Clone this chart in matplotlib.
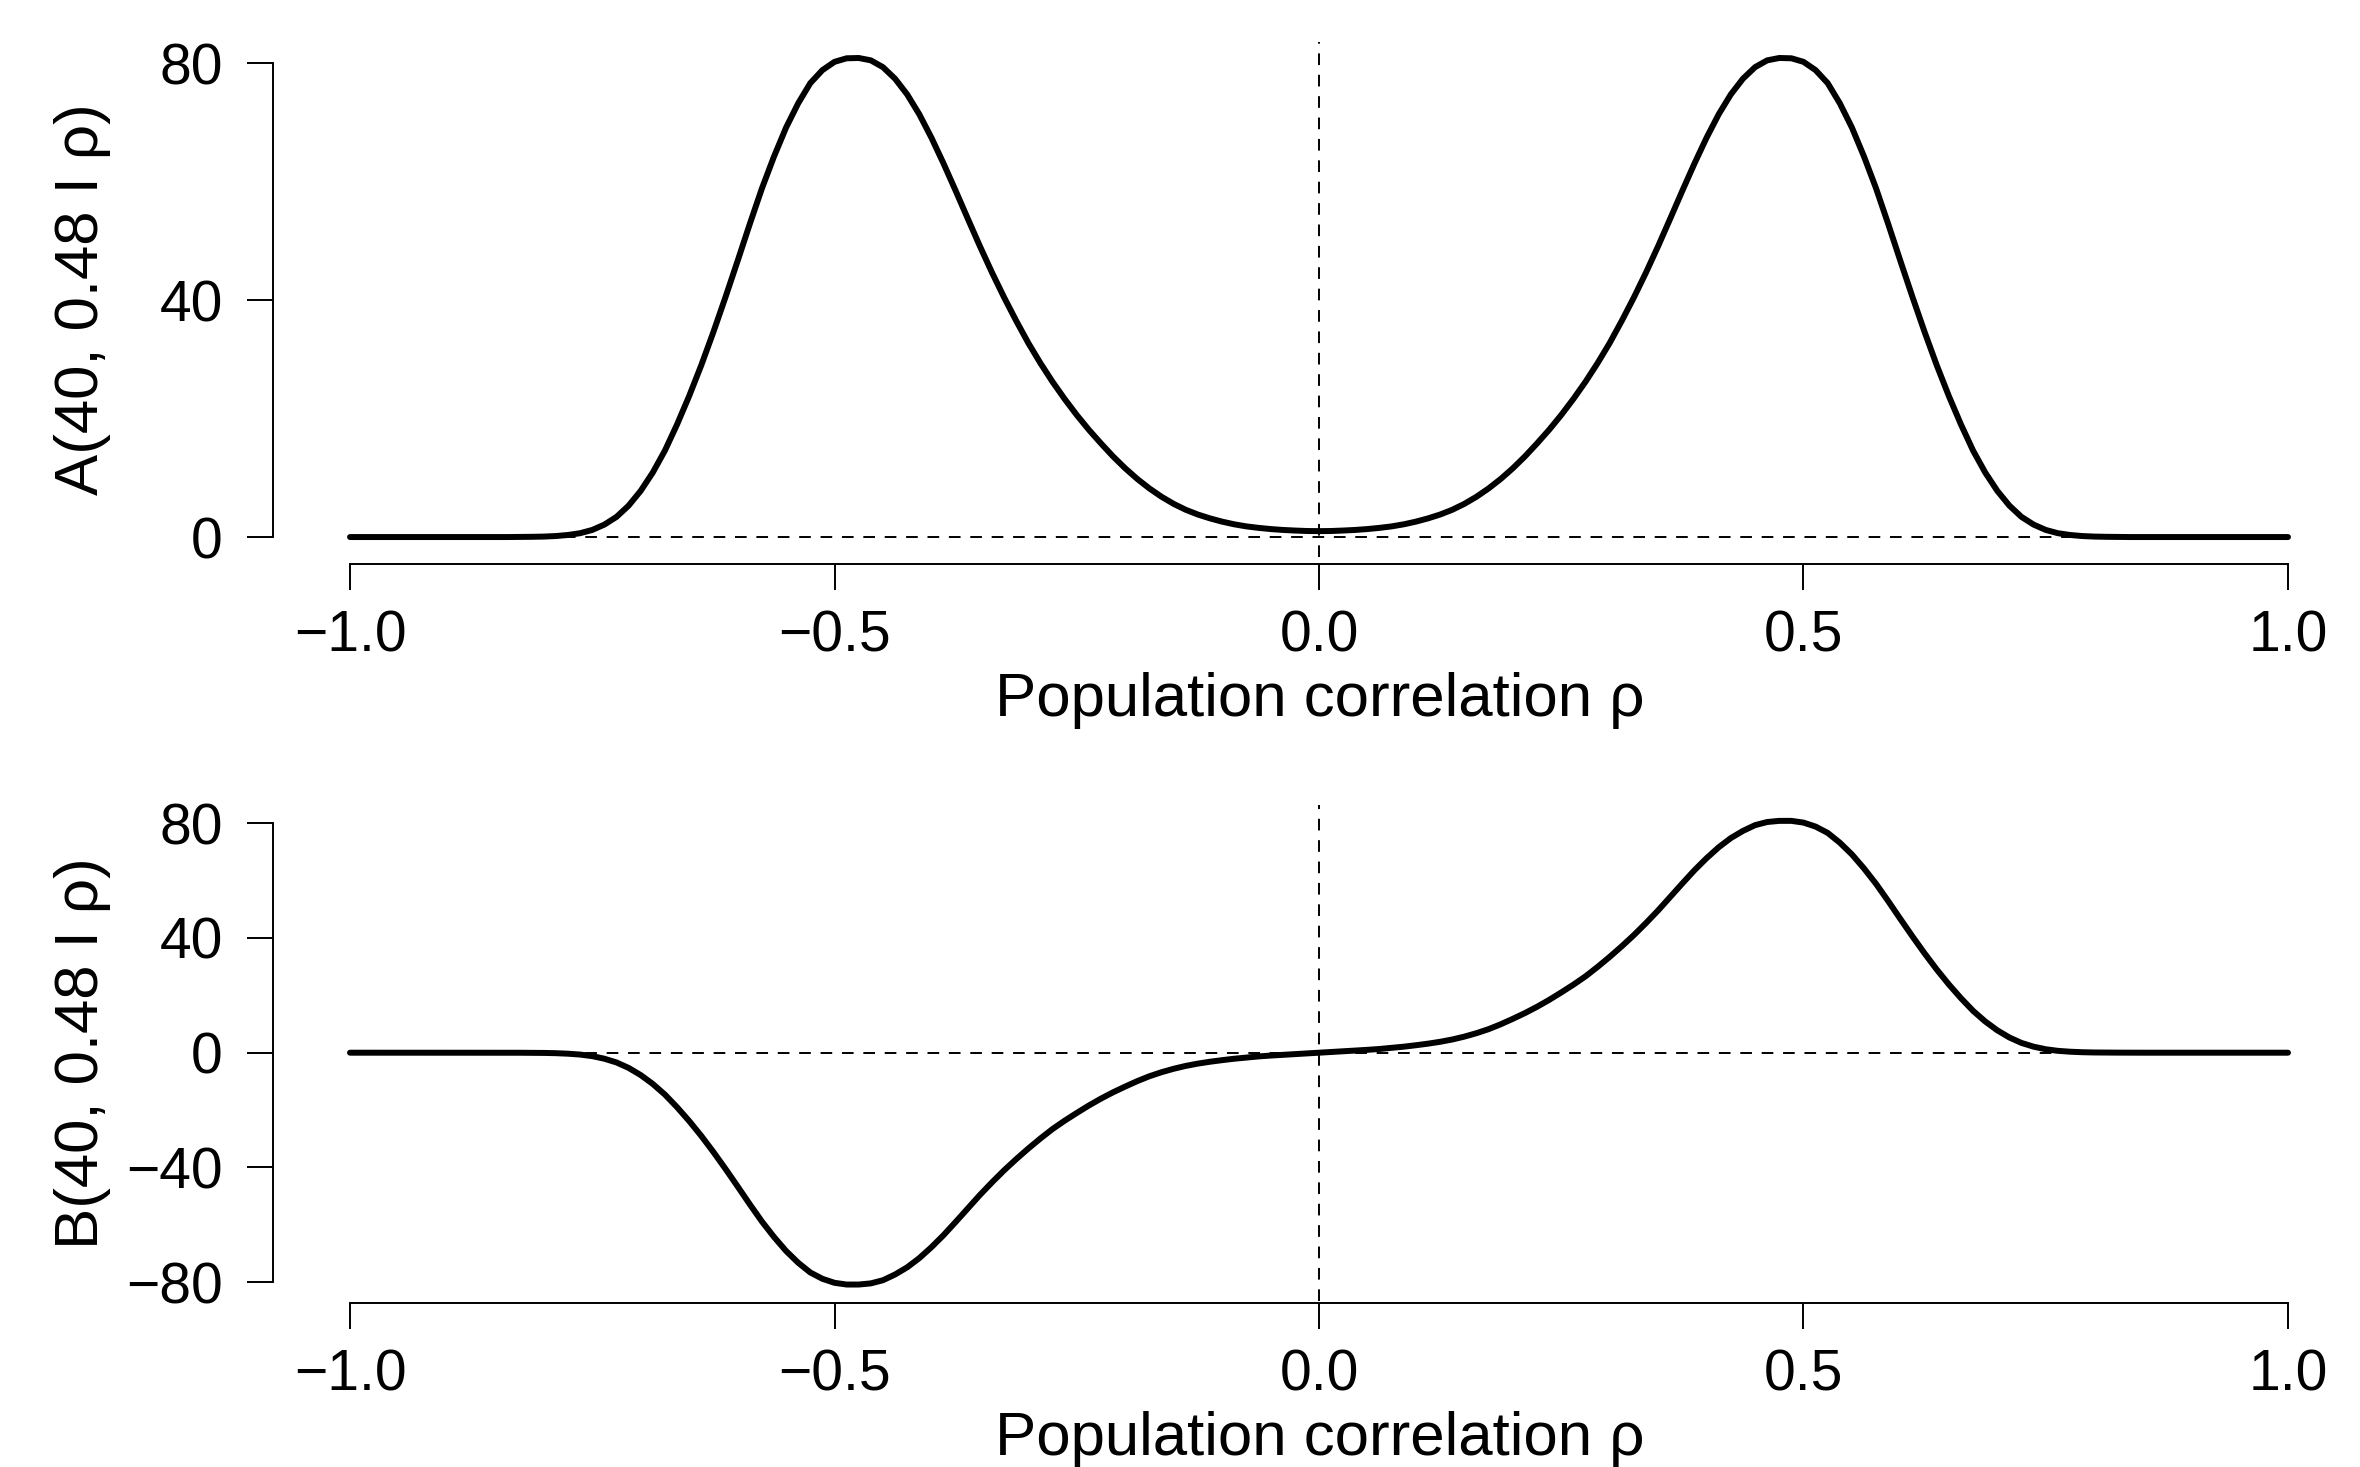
import numpy as np
import matplotlib
matplotlib.use("Agg")
import matplotlib.pyplot as plt

plt.rcParams['font.family'] = ['Liberation Sans', 'DejaVu Sans']

# population correlation grid (step 0.0125)
rho = np.linspace(-1, 1, 161)

# A(40, 0.48 | rho): rho from -1 to -0.0125, then 0 to 1
a_neg = [0, 0, 0, 0, 0, 0, 0, 0, 0, 0, 0, 0, 0, 0,
         0.02, 0.04, 0.08, 0.17, 0.35, 0.65, 1.2, 2.1, 3.4, 5.3,
         7.8, 10.9, 14.6, 19.0, 23.8, 29.0, 34.6, 40.5, 46.6, 52.8,
         58.8, 64.2, 69.1, 73.2, 76.6, 78.8, 80.2, 80.8, 80.85, 80.45,
         79.3, 77.35, 74.7, 71.35, 67.4, 63.05, 58.45, 53.75, 49.1, 44.65,
         40.45, 36.5, 32.75, 29.35, 26.2, 23.3, 20.6, 18.1, 15.8, 13.6,
         11.6, 9.8, 8.2, 6.8, 5.6, 4.6, 3.8, 3.15, 2.6, 2.15,
         1.8, 1.55, 1.35, 1.2, 1.1, 1.02]
a_pos = [1.0, 1.02, 1.1, 1.2, 1.35, 1.55, 1.8, 2.15, 2.6, 3.15,
         3.8, 4.6, 5.6, 6.8, 8.2, 9.8, 11.6, 13.6, 15.8, 18.1,
         20.6, 23.3, 26.2, 29.35, 32.75, 36.5, 40.45, 44.65, 49.1, 53.75,
         58.45, 63.05, 67.4, 71.35, 74.7, 77.35, 79.3, 80.45, 80.85, 80.8,
         80.2, 78.8, 76.6, 73.2, 69.1, 64.2, 58.8, 52.8, 46.6, 40.5,
         34.6, 29.0, 23.8, 19.0, 14.6, 10.9, 7.8, 5.3, 3.4, 2.1,
         1.2, 0.65, 0.35, 0.17, 0.08, 0.04, 0.02, 0, 0, 0,
         0, 0, 0, 0, 0, 0, 0, 0, 0, 0, 0]

# B(40, 0.48 | rho)
b_neg = [0, 0, 0, 0, 0, 0, 0, 0, 0, 0, 0, 0, 0, 0,
         -0.02, -0.04, -0.08, -0.17, -0.35, -0.65, -1.2, -2.1, -3.4, -5.3,
         -7.8, -10.9, -14.6, -19.0, -23.8, -29.0, -34.6, -40.5, -46.6, -52.8,
         -58.8, -64.2, -69.1, -73.2, -76.6, -78.8, -80.2, -80.8, -80.8, -80.4,
         -79.3, -77.3, -74.8, -71.6, -67.8, -63.6, -59.0, -54.3, -49.6, -45.2,
         -41.0, -37.1, -33.4, -29.9, -26.6, -23.7, -21.0, -18.4, -16.0, -13.8,
         -11.8, -9.9, -8.2, -6.8, -5.6, -4.6, -3.8, -3.15, -2.6, -2.1,
         -1.7, -1.3, -1.0, -0.75, -0.5, -0.25]
b_pos = [0.0, 0.25, 0.5, 0.75, 1.0, 1.3, 1.7, 2.1, 2.6, 3.15,
         3.8, 4.6, 5.6, 6.8, 8.2, 9.9, 11.8, 13.8, 16.0, 18.4,
         21.0, 23.7, 26.6, 29.9, 33.4, 37.1, 41.0, 45.2, 49.6, 54.3,
         59.0, 63.6, 67.8, 71.6, 74.8, 77.3, 79.3, 80.4, 80.8, 80.8,
         80.2, 78.8, 76.6, 73.2, 69.1, 64.2, 58.8, 52.8, 46.6, 40.5,
         34.6, 29.0, 23.8, 19.0, 14.6, 10.9, 7.8, 5.3, 3.4, 2.1,
         1.2, 0.65, 0.35, 0.17, 0.08, 0.04, 0.02, 0, 0, 0,
         0, 0, 0, 0, 0, 0, 0, 0, 0, 0, 0]

a_vals = a_neg + a_pos
b_vals = b_neg + b_pos

x_ticks = [-1.0, -0.5, 0.0, 0.5, 1.0]
x_labels = ['\u22121.0', '\u22120.5', '0.0', '0.5', '1.0']
a_ticks = [0, 40, 80]
a_labels = ['0', '40', '80']
b_ticks = [-80, -40, 0, 40, 80]
b_labels = ['\u221280', '\u221240', '0', '40', '80']

W, H = 2360, 1467
fig = plt.figure(figsize=(W / 100, H / 100), dpi=100)

# axes placed in pixel terms (left, bottom, width, height)
ax1 = fig.add_axes([272.5 / W, 1 - 556.6 / H, 2093 / W, 514.9 / H])
ax2 = fig.add_axes([272.5 / W, 1 - 1300.6 / H, 2093 / W, 495.8 / H])

panels = [
    (ax1, a_vals, a_ticks, a_labels, (-3.3, 83.6), 5.3, 'A(40, 0.48 I \u03c1)'),
    (ax2, b_vals, b_ticks, b_labels, (-86.4, 86.4), 1.7, 'B(40, 0.48 I \u03c1)'),
]

dash = (0, (6, 5))
for ax, vals, yt, ylab, ylim, offset, ylabel in panels:
    ax.plot([-1, 1], [0, 0], color='black', lw=1.4, ls=dash, zorder=1)
    ax.axvline(0, color='black', lw=1.4, ls=dash, zorder=1)
    ax.plot(rho, vals, color='black', lw=4.3, solid_capstyle='round',
            solid_joinstyle='round', zorder=3)

    ax.set_xlim(-1.08, 1.08)
    ax.set_ylim(*ylim)

    for s in ['top', 'right']:
        ax.spines[s].set_visible(False)
    ax.spines['left'].set_bounds(yt[0], yt[-1])
    ax.spines['bottom'].set_bounds(-1, 1)
    ax.spines['bottom'].set_position(('outward', offset))
    ax.spines['left'].set_linewidth(1.4)
    ax.spines['bottom'].set_linewidth(1.4)

    ax.set_xticks(x_ticks)
    ax.set_xticklabels(x_labels)
    ax.set_yticks(yt)
    ax.set_yticklabels(ylab)
    ax.tick_params(axis='both', direction='out', length=18.7, width=1.4,
                   labelsize=41, colors='black')
    ax.tick_params(axis='x', pad=14)
    ax.tick_params(axis='y', pad=17)

    ax.set_xlabel('Population correlation \u03c1', fontsize=44.5, va='baseline')
    ax.set_ylabel(ylabel, fontsize=44.5, va='baseline', rotation_mode='anchor')

ax1.xaxis.set_label_coords(0.5 + (1320 - 272.5 - 1046.5) / 2093, -0.3096)
ax2.xaxis.set_label_coords(0.5 + (1320 - 272.5 - 1046.5) / 2093, -0.3114)
ax1.yaxis.set_label_coords(-0.0834, 0.5)
ax2.yaxis.set_label_coords(-0.0834, 0.5)

fig.savefig('out.png', dpi=100)
